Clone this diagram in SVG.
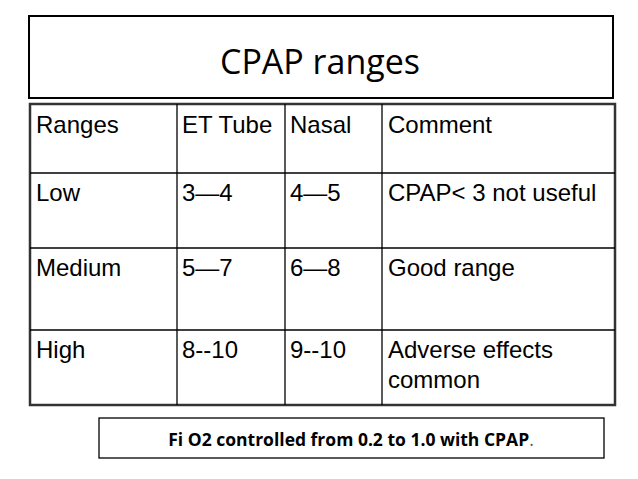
<svg xmlns="http://www.w3.org/2000/svg" width="638" height="479" viewBox="0 0 638 479">
<style>
.c{font-family:"Liberation Sans",Arial,sans-serif;font-size:24px;fill:#000}
.ln{stroke:#000;stroke-width:1.3}
</style>
<rect width="638" height="479" fill="#fff"/>
<g id="title"><rect x="29" y="16" width="584" height="82" fill="none" stroke="#000" stroke-width="2"/>
<text x="320" y="74" text-anchor="middle" font-family="'Open Sans',sans-serif" font-size="34">CPAP ranges</text></g>
<g id="table">
<rect x="30" y="104" width="585" height="301" fill="none" stroke="#333" stroke-width="2.5"/>
<line class="ln" x1="30" y1="173" x2="615" y2="173"/>
<line class="ln" x1="30" y1="248" x2="615" y2="248"/>
<line class="ln" x1="30" y1="330" x2="615" y2="330"/>
<line class="ln" x1="177" y1="104" x2="177" y2="405"/>
<line class="ln" x1="285" y1="104" x2="285" y2="405"/>
<line class="ln" x1="382" y1="104" x2="382" y2="405"/>
<text class="c" x="36" y="133">Ranges</text><text class="c" x="182" y="133">ET Tube</text><text class="c" x="290" y="133">Nasal</text><text class="c" x="388" y="133">Comment</text>
<text class="c" x="36" y="201">Low</text><text class="c" x="182" y="201">3—4</text><text class="c" x="290" y="201">4—5</text><text class="c" x="388" y="201">CPAP&lt; 3 not useful</text>
<text class="c" x="36" y="276">Medium</text><text class="c" x="182" y="276">5—7</text><text class="c" x="290" y="276">6—8</text><text class="c" x="388" y="276">Good range</text>
<text class="c" x="36" y="358">High</text><text class="c" x="182" y="358">8--10</text><text class="c" x="290" y="358">9--10</text><text class="c" x="388" y="358">Adverse effects</text><text class="c" x="388" y="388">common</text>
</g>
<g id="note"><rect x="99" y="418" width="505" height="40" fill="none" stroke="#000" stroke-width="1.3"/>
<text x="351" y="446" text-anchor="middle" font-family="'Open Sans',sans-serif" font-size="17.5" font-weight="bold">Fi O2 controlled from 0.2 to 1.0 with  CPAP<tspan font-weight="normal" fill="#555">.</tspan></text></g>
</svg>
